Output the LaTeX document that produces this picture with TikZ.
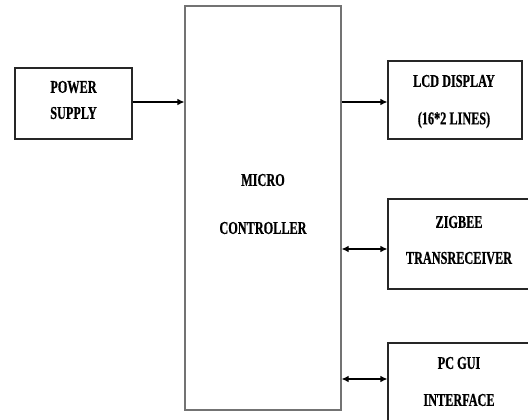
\documentclass[tikz,border=0pt]{standalone}
\usepackage{fontspec}
\setmainfont{Liberation Serif}
\newfontfamily\boxfont[FakeStretch=0.68,FakeBold=0.6]{Liberation Serif Bold}
\usetikzlibrary{arrows.meta}
\begin{document}
\begin{tikzpicture}[x=1pt,y=-1pt,
  blk/.style={draw=black!85, line width=1.1pt, rectangle, inner sep=0pt},
  txt/.style={font=\boxfont\fontsize{18}{26}\selectfont, inner sep=0pt},
  conn/.style={line width=1.1pt, -{Latex[length=7pt,width=6.5pt]}},
  bconn/.style={line width=1.1pt, {Latex[length=7pt,width=6.5pt]}-{Latex[length=7pt,width=6.5pt]}}]
\useasboundingbox (0,0) rectangle (528,420);
\clip (0,0) rectangle (528,420);
\fill[white] (0,0) rectangle (528,420);
% boxes
\node[blk, minimum width=117pt, minimum height=71pt] (ps) at (73.5,103.5) {};
\node[txt] (pst1) at (73.5,87) {POWER};
\node[txt] (pst2) at (73.5,113) {SUPPLY};
\node[blk, draw=black!55, minimum width=156pt, minimum height=404pt] (mc) at (263,208) {};
\node[txt] (mct1) at (263,180) {MICRO};
\node[txt] (mct2) at (263,228) {CONTROLLER};
\node[blk, minimum width=134pt, minimum height=78pt] (lcd) at (455,100) {};
\node[txt] (lcdt1) at (454,81) {LCD DISPLAY};
\node[txt] (lcdt2) at (454,120) {(16*2 LINES)};
\node[blk, minimum width=146pt, minimum height=90pt] (zb) at (461,244) {};
\node[txt] (zbt1) at (459,222) {ZIGBEE};
\node[txt] (zbt2) at (459,258) {TRANSRECEIVER};
\node[blk, minimum width=150pt, minimum height=100pt] (pc) at (463,393) {};
\node[txt] (pct1) at (459,363) {PC GUI};
\node[txt] (pct2) at (459,400) {INTERFACE};
% connectors
\draw[conn] (ps.east |- 0,102) -- (mc.west |- 0,102);
\draw[conn] (mc.east |- 0,102) -- (lcd.west |- 0,102);
\draw[bconn] (mc.east |- 0,249) -- (zb.west |- 0,249);
\draw[bconn] (mc.east |- 0,379) -- (pc.west |- 0,379);
\end{tikzpicture}
\end{document}
